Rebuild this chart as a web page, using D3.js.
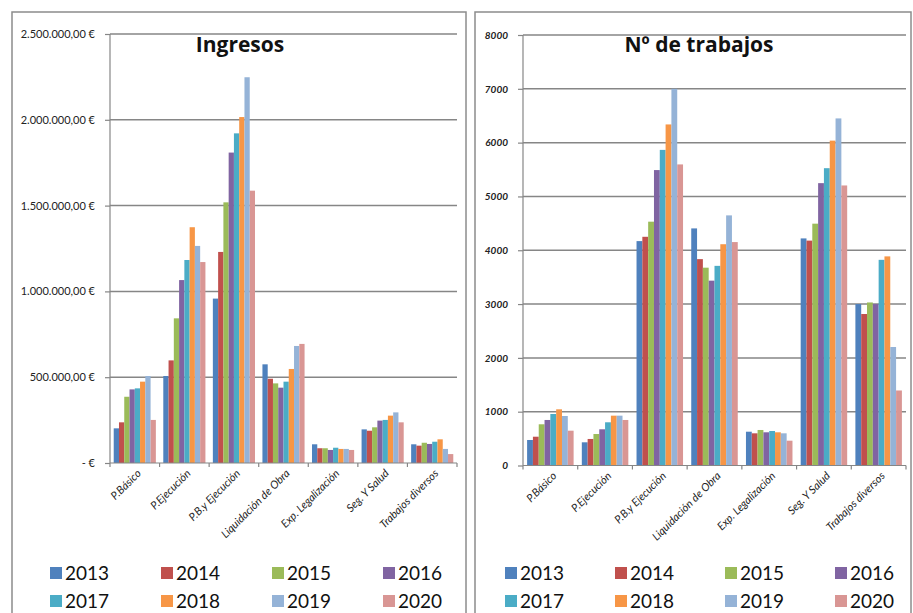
<!DOCTYPE html>
<html>
<head>
<meta charset="utf-8">
<script src="https://cdn.jsdelivr.net/npm/d3@7"></script>
<style>
  body { margin: 0; background: #fff; }
  svg { display: block; }
  .grid line { stroke: #868686; stroke-width: 1.5; }
  .axis path, .axis line { stroke: #868686; stroke-width: 1.2; }
</style>
</head>
<body>
<div id="chart"></div>
<script>
var svgWidth = 913;
var svgHeight = 613;

// Data
var categories = ["P.Básico", "P.Ejecución", "P.B.y Ejecución", "Liquidación de Obra", "Exp. Legalización", "Seg. Y Salud", "Trabajos diversos"];
var years = ["2013", "2014", "2015", "2016", "2017", "2018", "2019", "2020"];
var colors = ["#4F81BD", "#C0504D", "#9BBB59", "#8064A2", "#4BACC6", "#F79646", "#95B3D7", "#D99694"];

// one row per category, one value per year (2013..2020)
var ingresos = [
  [202000, 237000, 386000, 429000, 435000, 474000, 507000, 251000],
  [507000, 598000, 843000, 1066000, 1183000, 1374000, 1265000, 1171000],
  [958000, 1230000, 1519000, 1809000, 1921000, 2016000, 2248000, 1587000],
  [575000, 491000, 464000, 439000, 474000, 548000, 682000, 694000],
  [109000, 86000, 86000, 76000, 89000, 82000, 82000, 76000],
  [196000, 188000, 208000, 247000, 251000, 276000, 295000, 237000],
  [109000, 101000, 118000, 111000, 124000, 138000, 82000, 52000]
];
var trabajos = [
  [474, 535, 766, 846, 957, 1044, 920, 647],
  [431, 493, 585, 673, 803, 926, 926, 846],
  [4170, 4250, 4531, 5490, 5865, 6338, 7000, 5595],
  [4406, 3835, 3676, 3435, 3710, 4112, 4648, 4152],
  [628, 598, 660, 617, 641, 617, 598, 461],
  [4220, 4179, 4494, 5247, 5525, 6037, 6450, 5204],
  [3000, 2815, 3030, 3000, 3822, 3886, 2202, 1394]
];
var ingresosTicks = [0, 500000, 1000000, 1500000, 2000000, 2500000];
var ingresosTickLabels = ["-  €", "500.000,00 €", "1.000.000,00 €", "1.500.000,00 €", "2.000.000,00 €", "2.500.000,00 €"];
var trabajosTicks = [0, 1000, 2000, 3000, 4000, 5000, 6000, 7000, 8000];
var trabajosTickLabels = ["0", "1000", "2000", "3000", "4000", "5000", "6000", "7000", "8000"];

var svg = d3.select("#chart")
  .append("svg")
  .attr("width", svgWidth)
  .attr("height", svgHeight);

// panel frames
svg.append("rect").attr("x", 12).attr("y", 12).attr("width", 454).attr("height", 620)
  .attr("fill", "none").attr("stroke", "#8c8c8c").attr("stroke-width", 1.5);
svg.append("rect").attr("x", 475).attr("y", 12).attr("width", 436).attr("height", 620)
  .attr("fill", "none").attr("stroke", "#8c8c8c").attr("stroke-width", 1.5);

function drawChart(opts) {
  var g = svg.append("g");

  var x0 = d3.scaleBand()
    .domain(categories)
    .range([opts.left, opts.right])
    .paddingInner(0.15)
    .paddingOuter(0.075);

  var x1 = d3.scaleBand()
    .domain(years)
    .range([0, x0.bandwidth()]);

  var y = d3.scaleLinear()
    .domain([0, opts.max])
    .range([opts.bottom, opts.top]);

  // gridlines
  g.append("g")
    .attr("class", "grid")
    .selectAll("line")
    .data(opts.ticks.slice(1))
    .enter()
    .append("line")
    .attr("x1", opts.left)
    .attr("x2", opts.right)
    .attr("y1", d => y(d))
    .attr("y2", d => y(d));

  // bars
  var groups = g.selectAll(".cat")
    .data(opts.values)
    .enter()
    .append("g")
    .attr("transform", (d, i) => `translate(${x0(categories[i])},0)`);

  groups.selectAll("rect")
    .data(d => d)
    .enter()
    .append("rect")
    .attr("x", (d, i) => x1(years[i]))
    .attr("width", x1.bandwidth())
    .attr("y", d => y(d))
    .attr("height", d => y(0) - y(d))
    .attr("fill", (d, i) => colors[i]);

  // y axis
  var leftAxis = d3.axisLeft(y)
    .tickValues(opts.ticks)
    .tickFormat((d, i) => opts.tickLabels[i])
    .tickSize(5)
    .tickPadding(opts.tickPad);

  var ya = g.append("g")
    .attr("class", "axis")
    .attr("transform", `translate(${opts.left},0)`)
    .call(leftAxis);
  ya.select(".domain").attr("d", `M0,${opts.top}V${opts.bottom}`);
  ya.selectAll("text")
    .attr("fill", "#222")
    .attr("font-family", "Lato, 'Open Sans', sans-serif")
    .attr("font-size", opts.tickSize)
    .attr("font-style", opts.tickItalic ? "italic" : "normal")
    .attr("font-weight", opts.tickItalic ? "bold" : "normal");

  // x axis: baseline and ticks at band boundaries
  var xa = g.append("g").attr("class", "axis");
  xa.append("line")
    .attr("x1", opts.left).attr("x2", opts.right)
    .attr("y1", y(0)).attr("y2", y(0));
  var step = x0.step();
  xa.selectAll(".xt")
    .data(d3.range(categories.length + 1))
    .enter()
    .append("line")
    .attr("x1", i => opts.left + i * step)
    .attr("x2", i => opts.left + i * step)
    .attr("y1", y(0))
    .attr("y2", y(0) + 4);

  g.selectAll(".xlabel")
    .data(categories)
    .enter()
    .append("text")
    .attr("transform", d => `translate(${x0(d) + x0.bandwidth() / 2 + 7},${y(0) + 11}) rotate(-45)`)
    .attr("text-anchor", "end")
    .attr("font-family", "Lato, 'Open Sans', sans-serif")
    .attr("font-size", 11)
    .attr("font-style", "italic")
    .attr("fill", "#222")
    .text(d => d);

  // title
  g.append("text")
    .attr("x", opts.titleX)
    .attr("y", 52)
    .attr("text-anchor", "middle")
    .attr("font-family", "'Open Sans', Lato, sans-serif")
    .attr("font-weight", "bold")
    .attr("font-size", 21)
    .attr("fill", "#111")
    .text(opts.title);

  // legend
  var legend = g.selectAll(".leg")
    .data(years)
    .enter()
    .append("g")
    .attr("transform", (d, i) => `translate(${opts.legendX + (i % 4) * opts.legendStep},${i < 4 ? 573 : 601})`);
  legend.append("rect")
    .attr("x", 0).attr("y", -6)
    .attr("width", 12).attr("height", 12)
    .attr("fill", (d, i) => colors[i]);
  legend.append("text")
    .attr("x", 15)
    .attr("y", 7)
    .attr("font-family", "Lato, 'Open Sans', sans-serif")
    .attr("font-size", 19)
    .attr("fill", "#111")
    .text(d => d);
}

drawChart({
  values: ingresos, max: 2500000,
  ticks: ingresosTicks, tickLabels: ingresosTickLabels,
  left: 110, right: 457, top: 34, bottom: 463,
  tickSize: 11, tickItalic: false, tickPad: 10,
  title: "Ingresos", titleX: 240,
  legendX: 50, legendStep: 111
});

drawChart({
  values: trabajos, max: 8000,
  ticks: trabajosTicks, tickLabels: trabajosTickLabels,
  left: 523, right: 906, top: 35, bottom: 465.5,
  tickSize: 10, tickItalic: true, tickPad: 10,
  title: "Nº de trabajos", titleX: 699,
  legendX: 505, legendStep: 110
});
</script>
</body>
</html>
